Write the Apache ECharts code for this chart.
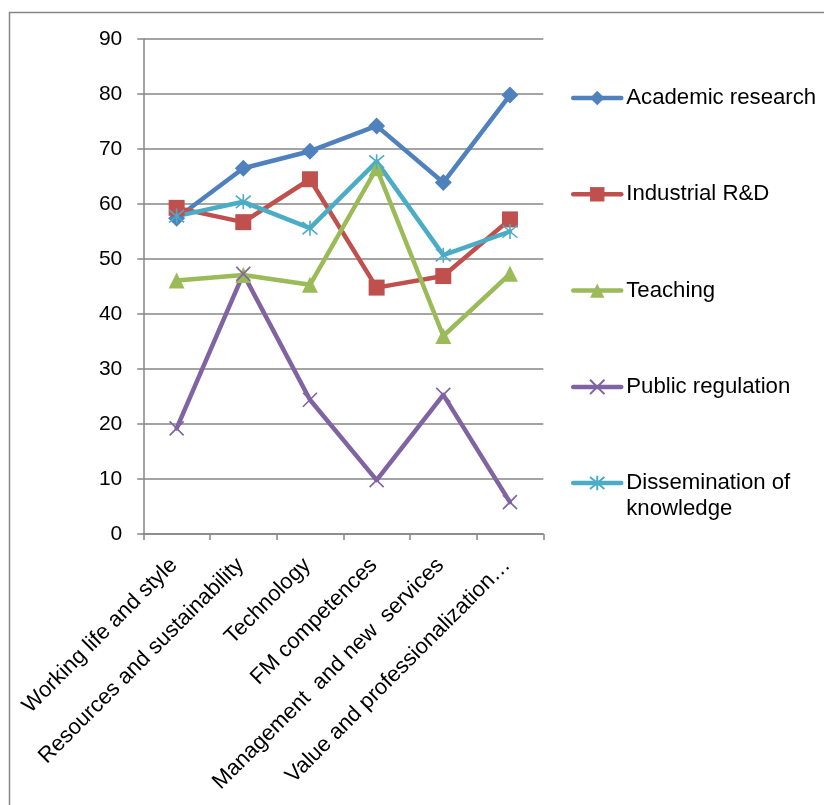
<!DOCTYPE html>
<html>
<head>
<meta charset="utf-8">
<script src="https://cdn.jsdelivr.net/npm/echarts@6/dist/echarts.min.js"></script>
<style>
  html, body { margin: 0; padding: 0; background: #fff; }
  #chart { width: 824px; height: 805px; }
</style>
</head>
<body>
<div id="chart"></div>
<script>
// Topic categories along the x axis
const categories = [
  'Working life and style',
  'Resources and sustainability',
  'Technology',
  'FM competences',
  'Management  and new  services',
  'Value and professionalization…'
];

// Scores per stakeholder group
const academicResearch = [57.4, 66.5, 69.6, 74.2, 63.9, 79.8];
const industrialRD     = [59.3, 56.7, 64.5, 44.8, 46.9, 57.2];
const teaching         = [46.1, 47.1, 45.3, 66.5, 36.0, 47.3];
const publicRegulation = [19.2, 47.3, 24.4, 9.8, 25.3, 5.8];
const dissemination    = [57.8, 60.4, 55.6, 67.7, 50.7, 55.0];

const seriesNames = ['Academic research', 'Industrial R&D', 'Teaching', 'Public regulation', 'Dissemination of knowledge'];

const FONT = '"Liberation Sans", Arial, sans-serif';
const GRID_GRAY = '#868686';

const crossPath = 'path://M0,0 L10,10 M10,0 L0,10';
const starPath = 'path://M0,0 L10,10 M10,0 L0,10 M5,-1 L5,11';

function lineSeries(name, data, color, symbol, size, strokeOnly) {
  return {
    name: name,
    type: 'line',
    data: data,
    symbol: symbol,
    symbolSize: size,
    showSymbol: true,
    lineStyle: { color: color, width: 4.5, cap: 'round', join: 'round' },
    itemStyle: strokeOnly
      ? { color: color, borderColor: color, borderWidth: 1.6 }
      : { color: color, borderWidth: 0 },
    emphasis: { disabled: true },
    animation: false
  };
}

// shared legend look
function legendBlock(names, top, formatter) {
  return {
    orient: 'vertical',
    left: 571,
    top: top,
    padding: 0,
    itemGap: 70.3,
    itemWidth: 48,
    itemHeight: 18,
    lineStyle: { width: 4.5 },
    textStyle: { fontFamily: FONT, fontSize: 22.2, color: '#000', lineHeight: 26 },
    selectedMode: false,
    data: names,
    formatter: formatter
  };
}

const chart = echarts.init(document.getElementById('chart'), null, { renderer: 'canvas' });

chart.setOption({
  backgroundColor: '#ffffff',
  textStyle: { fontFamily: FONT },
  graphic: [{
    type: 'rect',
    shape: { x: 9.5, y: 12.5, width: 900, height: 900 },
    style: { fill: 'none', stroke: GRID_GRAY, lineWidth: 1.5 },
    silent: true,
    z: -10
  }],
  grid: { left: 143.3, right: 280.7, top: 39, bottom: 271, containLabel: false },
  legend: [
    legendBlock(seriesNames.slice(0, 4), 85),
    // two-line entry: a blank first line keeps the marker level with "Dissemination of"
    legendBlock(seriesNames.slice(4), 444, function () {
      return ' \nDissemination of\nknowledge';
    })
  ],
  xAxis: {
    type: 'category',
    data: categories,
    boundaryGap: true,
    axisLine: { show: true, lineStyle: { color: GRID_GRAY, width: 1.5 } },
    axisTick: { show: true, alignWithLabel: false, length: 6, inside: false, lineStyle: { color: GRID_GRAY, width: 1.5 } },
    axisLabel: {
      rotate: 45,
      interval: 0,
      margin: 25,
      fontFamily: FONT,
      fontSize: 22,
      color: '#000',
      padding: [0, 4, 0, 0]
    },
    splitLine: { show: false }
  },
  yAxis: {
    type: 'value',
    min: 0,
    max: 90,
    interval: 10,
    axisLine: { show: true, lineStyle: { color: GRID_GRAY, width: 1.5 } },
    axisTick: { show: true, length: 6, inside: false, lineStyle: { color: GRID_GRAY, width: 1.5 } },
    axisLabel: { margin: 21, fontFamily: FONT, fontSize: 21, color: '#000' },
    splitLine: { show: true, lineStyle: { color: GRID_GRAY, width: 1.5 } }
  },
  series: [
    lineSeries(seriesNames[0], academicResearch, '#4F81BD', 'diamond', 17, false),
    lineSeries(seriesNames[1], industrialRD, '#C0504D', 'rect', 16, false),
    lineSeries(seriesNames[2], teaching, '#9BBB59', 'triangle', 16, false),
    lineSeries(seriesNames[3], publicRegulation, '#8064A2', crossPath, 14, true),
    lineSeries(seriesNames[4], dissemination, '#4BACC6', starPath, 15, true)
  ]
});
</script>
</body>
</html>
